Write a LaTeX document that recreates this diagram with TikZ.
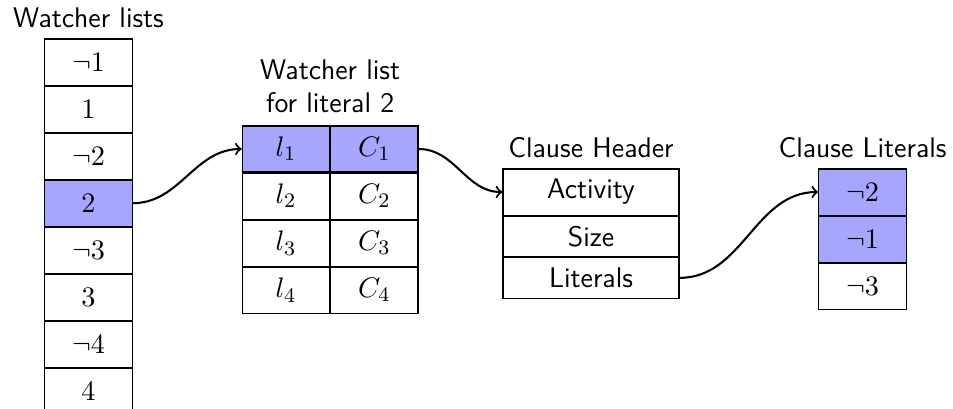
\documentclass[tikz,border=0pt]{standalone}
\usepackage{amsmath}
\usepackage{amssymb}
\usepackage{tikz}
\usetikzlibrary{positioning}

\begin{document}
\begin{tikzpicture}[
font=\fontsize{11pt}{12.8pt}\selectfont,
cell/.style={draw, minimum width=1.19cm, minimum height=0.627cm, inner sep=0pt},
hcell/.style={draw, minimum width=2.398cm, minimum height=0.552cm, inner sep=0pt, font=\sffamily\fontsize{11pt}{12.8pt}\selectfont},
hl/.style={fill=blue!35},
title/.style={font=\sffamily\fontsize{11pt}{12.8pt}\selectfont, align=center},
arr/.style={->, thick}
]
\useasboundingbox (0,0) rectangle (12.984,5.559);

% watcher lists
\node[cell] (w1) at (1.206,4.714) {$\neg 1$};
\node[cell, below=0pt of w1] (w2) {$1$};
\node[cell, below=0pt of w2] (w3) {$\neg 2$};
\node[cell, hl, below=0pt of w3] (w4) {$2$};
\node[cell, below=0pt of w4] (w5) {$\neg 3$};
\node[cell, below=0pt of w5] (w6) {$3$};
\node[cell, below=0pt of w6] (w7) {$\neg 4$};
\node[cell, below=0pt of w7] (w8) {$4$};
\node[title, above=0.5pt of w1] (wtitle) {Watcher lists};

% watcher list for literal 2
\node[cell, hl] (l1) at (3.896,3.529) {$l_1$};
\node[cell, hl, right=0pt of l1] (c1) {$C_1$};
\node[cell, below=0pt of l1] (l2) {$l_2$};
\node[cell, right=0pt of l2] (c2) {$C_2$};
\node[cell, below=0pt of l2] (l3) {$l_3$};
\node[cell, right=0pt of l3] (c3) {$C_3$};
\node[cell, below=0pt of l3] (l4) {$l_4$};
\node[cell, right=0pt of l4] (c4) {$C_4$};
\node[title, above=1.5pt of l1.north east] (ltitle) {Watcher list\\for literal 2};

% clause header
\node[hcell, minimum height=0.627cm] (act) at (8.052,2.943) {Activity};
\node[hcell, below=0pt of act] (size) {Size};
\node[hcell, below=0pt of size] (lits) {Literals};
\node[title, above=0.5pt of act] (htitle) {Clause Header};

% clause literals
\node[cell, hl] (cl1) at (11.751,2.943) {$\neg 2$};
\node[cell, hl, below=0pt of cl1] (cl2) {$\neg 1$};
\node[cell, below=0pt of cl2] (cl3) {$\neg 3$};
\node[title, above=0.5pt of cl1] (ctitle) {Clause Literals};

\draw[arr] (w4.east) to[out=0, in=180] (l1.west);
\draw[arr] (c1.east) to[out=0, in=180] (act.west);
\draw[arr] (lits.east) to[out=0, in=180] (cl1.west);
\end{tikzpicture}
\end{document}
